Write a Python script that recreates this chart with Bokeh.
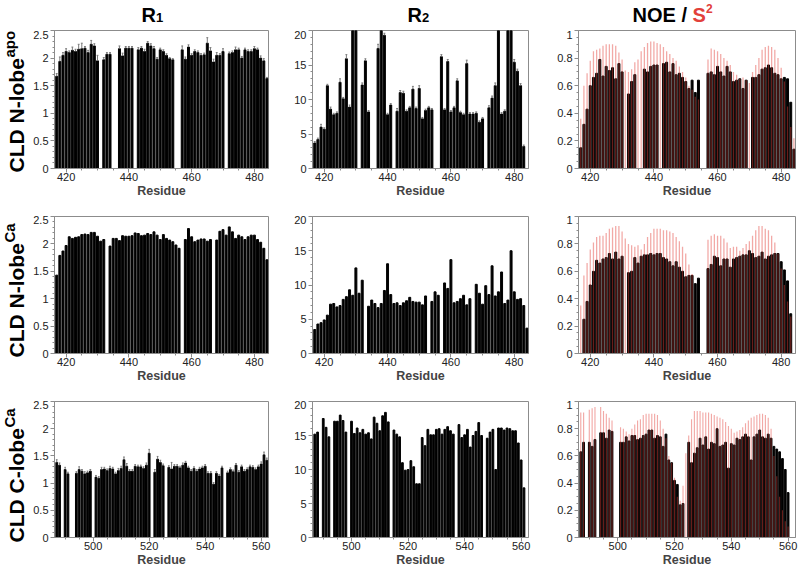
import numpy as np
from bokeh.plotting import figure
from bokeh.models import Range1d, FixedTicker, CustomJSTickFormatter
from bokeh.core.properties import value
from bokeh.layouts import gridplot, column, row
from bokeh.embed import file_html
from bokeh.resources import INLINE

N = None
FONT = "Liberation Sans"
RED = "#e2403a"

# residues of the N-lobe panels (rows 1-2) and of the C-lobe panels (row 3)
res_n = list(range(417, 485))
res_c = list(range(487, 563))

# ---- CLD N-lobe apo ----
r1_apo = [1.67, 1.94, 2.05, 2.12, 2.10, 2.14, 2.12, 2.16, 2.17, 2.18, 2.10, 2.25, 2.22, 1.95,
          N, 1.97, 2.07, 2.07, N, N, 2.17, 2.04, 2.18, 2.18, 2.18, N,
          2.15, 2.18, 2.12, 2.27, 2.22, 2.17, 1.98, 2.15, 2.12, 2.05, 1.99, 1.97, N, N,
          2.15, 1.98, 2.20, 2.05, 2.12, 2.10, 2.05, 2.06, 2.27, 2.13, 1.93, 2.05, 2.05, 2.12, N,
          2.08, 2.10, 2.15, 2.15, 2.00, 2.15, 2.12, 2.12, 2.17, 2.15, 2.00, 1.95, 1.63]
r1_apo_err = [0.05, 0.08, 0.05, 0.05, 0.03, 0.06, 0.04, 0.09, 0.10, 0.03, 0.04, 0.07, 0.04, 0.10,
              N, 0.04, 0.03, 0.03, N, N, 0.05, 0.05, 0.03, 0.03, 0.03, N,
              0.04, 0.03, 0.04, 0.03, 0.04, 0.04, 0.03, 0.03, 0.03, 0.03, 0.02, 0.02, N, N,
              0.07, 0.04, 0.04, 0.03, 0.03, 0.03, 0.03, 0.03, 0.10, 0.06, 0.05, 0.05, 0.03, 0.05, N,
              0.03, 0.03, 0.05, 0.03, 0.03, 0.03, 0.03, 0.03, 0.04, 0.03, 0.04, 0.04, 0.02]
r2_apo = [3.7, 4.2, 6.0, 5.7, 12.0, 8.6, 7.8, 8.0, 12.5, 10.1, 15.9, 8.9, 24.0, 22.0,
          N, 12.1, 15.6, 8.2, N, N, 17.4, 22.0, 19.3, 7.8, 9.2, N,
          8.3, 11.0, 10.9, 8.3, 8.8, 11.5, 8.7, 11.6, 7.2, 8.4, 8.8, 8.5, N, N,
          16.2, 8.5, 15.5, 8.2, 8.8, 12.7, 8.1, 7.8, 15.2, 7.9, 7.9, 8.0, 6.7, 7.2, N,
          8.8, 10.2, 12.0, 24.0, 7.9, 8.3, 24.0, 22.0, 15.4, 14.1, 12.0, 3.2, N]
r2_apo_err = [0.2, 0.2, 0.4, 0.2, 0.2, 0.3, 0.2, 0.2, 0.5, 0.2, 0.6, 0.3, N, N,
              N, 0.3, 0.3, 0.2, N, N, 0.6, N, 0.3, 0.2, 0.2, N,
              0.4, 0.3, 0.3, 0.2, 0.2, 0.4, 0.2, 0.4, 0.2, 0.2, 0.2, 0.2, N, N,
              0.3, 0.2, 0.3, 0.2, 0.2, 0.3, 0.2, 0.2, 0.5, 0.2, 0.2, 0.2, 0.2, 0.2, N,
              0.3, 0.3, 0.4, N, 0.2, 0.2, N, N, 0.4, 0.3, 0.3, 0.2, N]
noe_apo = [0.15, 0.32, 0.43, 0.60, 0.66, 0.69, 0.79, 0.67, 0.74, 0.71, 0.73, 0.65, 0.76, 0.70,
           N, 0.54, 0.63, 0.68, N, N, 0.72, 0.70, 0.74, 0.75, 0.75, N,
           0.76, 0.77, 0.70, 0.76, 0.68, 0.69, 0.66, 0.63, 0.58, 0.64, 0.55, 0.64, N, N,
           0.69, 0.70, 0.68, 0.74, 0.70, 0.67, 0.74, 0.70, 0.63, 0.64, 0.65, 0.58, 0.64, N,
           0.66, 0.66, 0.68, 0.72, 0.73, 0.75, 0.73, 0.69, 0.68, 0.65, 0.66, 0.65, 0.48, 0.14]
s2_apo = [0.36, 0.60, 0.69, 0.78, 0.85, 0.86, 0.87, 0.89, 0.90, 0.90, 0.90, 0.89, 0.84, 0.79,
          0.71, 0.70, 0.72, 0.77, 0.79, 0.85, 0.88, 0.91, 0.92, 0.92, 0.91, 0.90,
          0.88, 0.85, 0.83, 0.80, 0.78, 0.74, 0.70, 0.66, 0.60, 0.57, 0.52, 0.50, N, N,
          0.79, 0.87, 0.86, 0.85, 0.83, 0.80, 0.78, 0.75, 0.70, 0.68, 0.65, 0.66, 0.64, 0.62,
          0.70, 0.75, 0.80, 0.86, 0.88, 0.89, 0.88, 0.86, 0.80, 0.73, 0.63, 0.45, 0.30, 0.22]

# ---- CLD N-lobe Ca ----
r1_ca = [1.43, 1.79, 1.87, 1.97, 2.13, 2.10, 2.12, 2.13, 2.17, 2.18, 2.17, 2.21, 2.21, 2.14, 2.05, 2.08, N,
         1.96, 2.10, 2.10, 2.06, 2.15, 2.14, 2.14, 2.15, 2.20, 2.19, 2.15, 2.16, 2.19, 2.17, 2.22, 2.16,
         2.08, 2.17, 2.10, 2.07, 2.04, 1.98, 1.92, N,
         2.08, 2.28, 2.13, 2.04, 2.07, 2.09, 2.09, 2.05, 2.08, N,
         2.07, 2.23, 2.26, 2.16, 2.31, 2.22, 2.10, 2.16, 2.13, 2.08, 2.13, 2.16, 2.16, 2.08, 2.03, 1.92, 1.71]
r2_ca = [3.5, 4.3, 4.5, 4.9, 5.6, 7.2, 7.3, 6.8, 7.0, 7.9, 8.3, 9.3, 8.5, 12.5, 8.8, 10.7, N,
         6.9, 7.8, 7.3, 6.7, 7.3, 9.2, 13.1, 8.6, 7.3, 7.4, 7.0, 7.4, 7.7, 8.2, 7.6, 7.5, 7.5, 7.1, 8.4, N,
         7.6, 9.0, 8.5, N,
         10.3, 9.5, 13.7, 7.4, 7.6, 8.0, 8.5, 7.1, 8.0, N,
         10.1, 8.8, 7.2, 9.9, 8.6, 12.8, 8.4, 9.0, 11.9, 7.3, 7.8, 15.0, 9.0, 7.9, 8.0, 7.0, 3.7]
noe_ca = [N, 0.25, 0.38, 0.50, 0.60, 0.68, 0.66, 0.69, 0.70, 0.73, 0.69, 0.74, 0.69, 0.71, N,
          0.59, 0.60, 0.70, 0.66, 0.71, 0.72, 0.72, 0.73, 0.72, 0.73, 0.73, 0.70, 0.69, 0.67, 0.64, 0.67,
          0.63, 0.60, 0.56, 0.57, 0.57, 0.51, 0.55, N, N,
          0.62, 0.65, 0.71, 0.70, 0.64, 0.69, 0.69, 0.63, 0.69,
          0.70, 0.71, 0.72, 0.72, 0.75, 0.73, 0.70, 0.71, 0.74, 0.69, 0.71, 0.72, 0.73, 0.73, 0.67, 0.61,
          0.53, 0.29, N]
s2_ca = [0.35, 0.57, 0.66, 0.76, 0.81, 0.85, 0.86, 0.86, 0.88, 0.91, 0.92, 0.93, 0.93, 0.89, 0.84, 0.80,
         0.79, 0.78, 0.79, 0.76, 0.80, 0.85, 0.88, 0.91, 0.91, 0.91, 0.90, 0.90, 0.89, 0.88, 0.85, 0.82,
         0.78, 0.73, 0.65, 0.58, N, N, N, N,
         0.83, 0.86, 0.87, 0.86, 0.86, 0.84, 0.81, 0.77, 0.78, 0.78, 0.75, 0.77, 0.80, 0.82, 0.86, 0.90,
         0.93, 0.93, 0.91, 0.90, 0.86, 0.81, 0.73, 0.62, 0.50, 0.38, 0.27, N]

# ---- CLD C-lobe Ca ----
r1_c = [1.38, 1.33, N, 1.25, 1.17, N, N, 1.18, 1.25, 1.22, 1.17, 1.19, 1.22, N,
        1.11, 1.09, 1.25, 1.26, 1.23, 1.27, 1.26, 1.17, 1.23, 1.27, 1.43, 1.31, 1.22, 1.22, 1.31, 1.30,
        1.30, 1.27, 1.33, 1.55, N, 1.20, 1.44, 1.38, 1.32, N,
        1.29, 1.26, 1.31, 1.31, 1.28, 1.33, 1.37, 1.28, 1.22, 1.27, 1.22, 1.26, 1.28, 1.31, 1.18, 1.18,
        0.98, 1.18, 1.13, 1.28, N,
        1.19, 1.25, 1.21, 1.33, 1.20, 1.30, 1.22, 1.25, 1.30, 1.29, 1.25, 1.30, 1.35, 1.52, 1.42]
r1_c_err = [0.05, 0.04, N, 0.04, 0.03, N, N, 0.03, 0.05, 0.03, 0.04, 0.03, 0.03, N,
            0.03, 0.03, 0.04, 0.03, 0.03, 0.04, 0.03, 0.03, 0.04, 0.04, 0.05, 0.05, 0.03, 0.03, 0.03, 0.03,
            0.03, 0.03, 0.04, 0.07, N, 0.05, 0.05, 0.04, 0.03, N,
            0.03, 0.12, 0.03, 0.03, 0.03, 0.04, 0.03, 0.03, 0.03, 0.03, 0.03, 0.03, 0.03, 0.03, 0.03, 0.03,
            0.03, 0.03, 0.03, 0.03, N,
            0.03, 0.03, 0.03, 0.03, 0.03, 0.03, 0.03, 0.03, 0.03, 0.03, 0.03, 0.03, 0.04, 0.05, 0.04]
r2_c = [15.2, 15.5, N, 17.5, 16.2, 14.8, N, 17.1, 17.1, 18.0, 17.2, 15.5, N,
        17.1, 15.3, 16.1, 15.4, 15.9, 15.2, 15.4, 14.5, 17.7, 16.8, 15.7, 17.9, 18.4, 17.0, N,
        15.8, 15.2, 14.8, 11.0, 9.9, 10.0, 11.3, 10.4, 7.9, 7.9, 14.7, 13.5, 15.9, 15.1, 15.1, 15.9,
        16.0, 15.2, 15.9, 16.3, 15.7, 15.2, N,
        16.6, 14.7, 15.1, 15.9, 13.3, 15.0, 15.6, 16.9, 15.0, N,
        14.6, 15.5, 15.9, 10.0, 16.1, 16.1, 15.8, 16.1, 16.0, 15.7, 15.7, 13.9, 11.4, 7.3, N]
noe_c = [0.63, 0.70, N, 0.70, 0.67, 0.72, N, 0.77, 0.77, 0.73, 0.79, 0.78, N, N,
         0.70, 0.70, 0.74, 0.71, 0.75, 0.75, 0.72, 0.73, 0.75, 0.76, 0.79, 0.79, 0.73, 0.75, 0.74, 0.67, 0.76,
         0.57, 0.55, 0.42, 0.39, 0.24, 0.25, N,
         0.70, 0.55, 0.62, 0.66, 0.73, 0.68, 0.74, 0.65, 0.70, 0.69, 0.80, 0.67, 0.68, 0.70, 0.51, 0.69,
         0.68, 0.73, 0.72, 0.74, 0.76, 0.74, 0.57, 0.74, 0.76, 0.79, 0.74, 0.73, 0.76, 0.73, 0.67, 0.65,
         0.63, 0.58, 0.50, 0.33, N, N]
s2_c = [0.92, 0.92, N, 0.94, 0.95, 0.96, N, 0.96, 0.93, 0.91, 0.88, 0.86, N, N,
        0.81, 0.80, 0.78, 0.76, 0.80, 0.83, 0.86, 0.87, 0.90, 0.91, 0.91, 0.91, 0.91, 0.90, 0.86, 0.80, 0.73,
        0.60, 0.55, 0.44, 0.30, 0.27, 0.38, 0.62,
        0.75, 0.87, 0.93, 0.93, 0.93, 0.92, 0.92, 0.92, 0.91, 0.90, 0.89, 0.88, 0.87, 0.85, 0.82, 0.80,
        0.77, 0.78, 0.79, 0.81, 0.84, 0.86, 0.88, 0.89, 0.90, 0.91, 0.91, 0.90, 0.88, 0.80, 0.60, 0.45,
        0.30, 0.20, 0.12, 0.08, N, N]

x_ticks_n = [420, 440, 460, 480]
x_ticks_c = [500, 520, 540, 560]
r1_ticks = [0, 0.5, 1, 1.5, 2, 2.5]
r2_ticks = [0, 5, 10, 15, 20]
noe_ticks = [0, 0.2, 0.4, 0.6, 0.8, 1]

row_labels = [("CLD N-lobe", "apo"), ("CLD N-lobe", "Ca"), ("CLD C-lobe", "Ca")]

# page layout (pixels)
TS, LS = 30, 30            # title band height, row-label band width
PW = [216, 216, 217]       # frame widths per column
BL = [22, 32, 38]          # left borders
BR = [12, 12, 3]           # right borders
PH = [138, 137, 137]       # frame heights per row
BT = [0, 1, 1]             # top borders
BB = [47, 47, 31]          # bottom borders
GRID_H = sum(PH) + sum(BT) + sum(BB)
TOTAL_W = LS + sum(PW) + sum(BL) + sum(BR)


def clean(res, vals, err=None):
    keep = [i for i, v in enumerate(vals) if v is not None and (err is None or err[i] is not None)]
    xs = [res[i] for i in keep]
    ys = [vals[i] for i in keep]
    if err is None:
        return xs, ys
    return xs, ys, [err[i] for i in keep]


def panel(res, vals, xr, ymax, yticks, yminor, xticks, xminor, c, r, s2=None, err=None):
    p = figure(width=BL[c] + PW[c] + BR[c], height=BT[r] + PH[r] + BB[r], title=None,
               x_range=Range1d(*xr), y_range=Range1d(0, ymax),
               min_border_left=BL[c], min_border_right=BR[c],
               min_border_top=BT[r], min_border_bottom=BB[r],
               output_backend="svg", toolbar_location=None)
    p.grid.visible = False
    p.outline_line_color = "#8c8c8c"
    xs, ys = clean(res, vals)
    p.vbar(x=xs, top=ys, width=0.62, color="black")
    if err is not None:
        ex, ey, ee = clean(res, vals, err)
        hi = [y + e for y, e in zip(ey, ee)]
        p.segment(x0=ex, y0=ey, x1=ex, y1=hi, line_color="#7a7a7a", line_width=1)
        p.segment(x0=[x - 0.3 for x in ex], y0=hi, x1=[x + 0.3 for x in ex], y1=hi,
                  line_color="#7a7a7a", line_width=1)
    if s2 is not None:
        xs2, ys2 = clean(res, s2)
        p.vbar(x=xs2, top=ys2, width=0.4, fill_color=RED, fill_alpha=0.45, line_color=None)
    p.xaxis.ticker = FixedTicker(ticks=xticks, minor_ticks=xminor)
    p.yaxis.ticker = FixedTicker(ticks=yticks, minor_ticks=yminor)
    p.yaxis.formatter = CustomJSTickFormatter(code="return tick.toString()")
    p.xaxis.axis_label = "Residue"
    for ax in (p.xaxis[0], p.yaxis[0]):
        ax.axis_line_color = "#8c8c8c"
        ax.major_tick_line_color = "#8c8c8c"
        ax.minor_tick_line_color = "#8c8c8c"
        ax.major_tick_in = 0
        ax.major_tick_out = 4
        ax.minor_tick_in = 0
        ax.minor_tick_out = 2
        ax.major_label_text_font = FONT
        ax.major_label_text_font_size = "11px"
        ax.major_label_text_color = "#222222"
        ax.major_label_standoff = 2
    xa = p.xaxis[0]
    xa.major_label_standoff = 0
    xa.axis_label_text_font = FONT
    xa.axis_label_text_font_style = "bold"
    xa.axis_label_text_font_size = "12.5px"
    xa.axis_label_standoff = 0
    return p


def strip(w, h):
    s = figure(width=w, height=h, title=None, x_range=Range1d(0, w), y_range=Range1d(0, h),
               min_border_left=0, min_border_right=0, min_border_top=0, min_border_bottom=0,
               x_axis_location=None, y_axis_location=None,
               output_backend="svg", toolbar_location=None)
    s.grid.visible = False
    s.outline_line_color = None
    return s


def txt(s, x, y, text, size, color="black", angle=0):
    s.text(x=[x], y=[y], text=[text], angle=angle, text_font=value(FONT),
           text_font_size=value(size), text_font_style="bold", text_color=color,
           text_align="left", text_baseline="alphabetic")


minor_n = list(range(415, 486, 5))
minor_c = list(range(485, 565, 5))
r1_minor = list(np.round(np.arange(0, 2.51, 0.1), 2))
r2_minor = list(range(0, 21))
noe_minor = list(np.round(np.arange(0, 1.01, 0.05), 2))

rows_data = [
    (res_n, r1_apo, r2_apo, noe_apo, s2_apo, r1_apo_err, r2_apo_err, (416.3, 484.5), x_ticks_n, minor_n),
    (res_n, r1_ca, r2_ca, noe_ca, s2_ca, None, None, (416.3, 484.5), x_ticks_n, minor_n),
    (res_c, r1_c, r2_c, noe_c, s2_c, r1_c_err, None, (486.2, 562.6), x_ticks_c, minor_c),
]

grid = []
for r, (res, a, b, c, s, ea, eb, xr, xt, xm) in enumerate(rows_data):
    p1 = panel(res, a, xr, 2.5, r1_ticks, r1_minor, xt, xm, 0, r, err=ea)
    p2 = panel(res, b, xr, 20, r2_ticks, r2_minor, xt, xm, 1, r, err=eb)
    p3 = panel(res, c, xr, 1, noe_ticks, noe_minor, xt, xm, 2, r, s2=s)
    grid.append([p1, p2, p3])

# column titles (band y measured upward from the band bottom)
top = strip(TOTAL_W, TS)
txt(top, 141, TS - 14, "R", "20px")
txt(top, 155.5, TS - 17, "1", "13px")
txt(top, 407, TS - 14, "R", "20px")
txt(top, 421.5, TS - 17, "2", "13px")
txt(top, 632, TS - 14, "NOE / ", "20px")
txt(top, 692, TS - 14, "S", "20px", color=RED)
txt(top, 705.5, TS - 8, "2", "12px", color=RED)

# row labels, rotated; page y converted to band coordinates
left = strip(LS, GRID_H)
frame_bottoms = []
yb = 0
for r in range(3):
    yb += BT[r] + PH[r]
    frame_bottoms.append(yb)
    yb += BB[r]
for r, (main, sup) in enumerate(row_labels):
    yd = GRID_H - (frame_bottoms[r] + 4)
    txt(left, 16, yd, main, "21px", angle=np.pi / 2)
    txt(left, 9, yd + 115, sup, "15px", angle=np.pi / 2)

layout = column(top, row(left, gridplot(grid, toolbar_location=None)))
open("out.html", "w").write(file_html(layout, INLINE))
